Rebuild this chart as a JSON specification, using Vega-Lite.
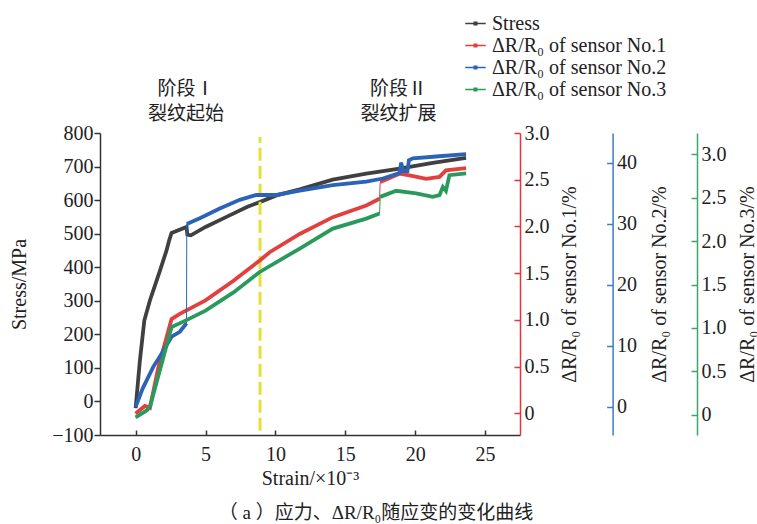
{
  "$schema": "https://vega.github.io/schema/vega-lite/v6.json",
  "width": 420,
  "height": 302,
  "autosize": {"type": "none"},
  "padding": {"left": 100, "top": 133, "right": 237, "bottom": 89},
  "config": {
    "view": {"stroke": null},
    "axis": {
      "grid": false,
      "labelFont": "Times New Roman, Liberation Serif, serif",
      "titleFont": "Times New Roman, Liberation Serif, serif",
      "labelFontSize": 20,
      "titleFontSize": 20,
      "titleFontWeight": "normal",
      "labelColor": "#222222",
      "titleColor": "#222222",
      "domainColor": "#333333",
      "tickColor": "#333333",
      "domainWidth": 1.5,
      "tickWidth": 1.5,
      "labelOverlap": false,
      "tickCount": 20
    },
    "legend": {
      "labelFont": "Times New Roman, Liberation Serif, serif",
      "labelFontSize": 20,
      "labelColor": "#222222",
      "labelLimit": 400
    },
    "title": {"font": "Times New Roman, Liberation Serif, Noto Sans CJK SC, serif", "fontSize": 19, "fontWeight": "normal", "color": "#222222"}
  },
  "title": {"text": "（ a ）应力、ΔR/R₀随应变的变化曲线", "orient": "bottom", "anchor": "middle", "dx": 66, "offset": 16},
  "datasets": {
    "stress": [
      {"strain": 0, "value": -20, "series": "Stress", "seg": 0},
      {"strain": 0.3, "value": 120, "series": "Stress", "seg": 0},
      {"strain": 0.62, "value": 241, "series": "Stress", "seg": 0},
      {"strain": 1.02, "value": 301, "series": "Stress", "seg": 0},
      {"strain": 1.74, "value": 390, "series": "Stress", "seg": 0},
      {"strain": 2.21, "value": 450, "series": "Stress", "seg": 0},
      {"strain": 2.4, "value": 480, "series": "Stress", "seg": 0},
      {"strain": 2.57, "value": 502, "series": "Stress", "seg": 0},
      {"strain": 3.64, "value": 520, "series": "Stress", "seg": 0},
      {"strain": 3.7, "value": 497, "series": "Stress", "seg": 0},
      {"strain": 3.95, "value": 495, "series": "Stress", "seg": 0},
      {"strain": 5, "value": 520, "series": "Stress", "seg": 0},
      {"strain": 6.5, "value": 550, "series": "Stress", "seg": 0},
      {"strain": 8, "value": 580, "series": "Stress", "seg": 0},
      {"strain": 8.88, "value": 594, "series": "Stress", "seg": 0},
      {"strain": 10.07, "value": 614, "series": "Stress", "seg": 0},
      {"strain": 11.74, "value": 632, "series": "Stress", "seg": 0},
      {"strain": 14.1, "value": 661, "series": "Stress", "seg": 0},
      {"strain": 16.5, "value": 679, "series": "Stress", "seg": 0},
      {"strain": 18.88, "value": 694, "series": "Stress", "seg": 0},
      {"strain": 21.26, "value": 711, "series": "Stress", "seg": 0},
      {"strain": 23.64, "value": 726, "series": "Stress", "seg": 0}
    ],
    "s1": [
      {"strain": 0, "value": 0.0, "series": "ΔR/R₀ of sensor No.1", "seg": 0},
      {"strain": 0.66, "value": 0.08, "series": "ΔR/R₀ of sensor No.1", "seg": 0},
      {"strain": 1.02, "value": 0.06, "series": "ΔR/R₀ of sensor No.1", "seg": 0},
      {"strain": 1.62, "value": 0.49, "series": "ΔR/R₀ of sensor No.1", "seg": 0},
      {"strain": 2.57, "value": 1.01, "series": "ΔR/R₀ of sensor No.1", "seg": 0},
      {"strain": 3.16, "value": 1.065, "series": "ΔR/R₀ of sensor No.1", "seg": 0},
      {"strain": 5, "value": 1.21, "series": "ΔR/R₀ of sensor No.1", "seg": 0},
      {"strain": 7, "value": 1.42, "series": "ΔR/R₀ of sensor No.1", "seg": 0},
      {"strain": 8.88, "value": 1.636, "series": "ΔR/R₀ of sensor No.1", "seg": 0},
      {"strain": 9.59, "value": 1.725, "series": "ΔR/R₀ of sensor No.1", "seg": 0},
      {"strain": 11.74, "value": 1.92, "series": "ΔR/R₀ of sensor No.1", "seg": 0},
      {"strain": 14.11, "value": 2.1, "series": "ΔR/R₀ of sensor No.1", "seg": 0},
      {"strain": 16.5, "value": 2.225, "series": "ΔR/R₀ of sensor No.1", "seg": 0},
      {"strain": 17.45, "value": 2.297, "series": "ΔR/R₀ of sensor No.1", "seg": 0},
      {"strain": 17.5, "value": 2.475, "series": "ΔR/R₀ of sensor No.1", "seg": 1},
      {"strain": 18.88, "value": 2.565, "series": "ΔR/R₀ of sensor No.1", "seg": 1},
      {"strain": 19.6, "value": 2.547, "series": "ΔR/R₀ of sensor No.1", "seg": 1},
      {"strain": 20.79, "value": 2.51, "series": "ΔR/R₀ of sensor No.1", "seg": 1},
      {"strain": 21.74, "value": 2.53, "series": "ΔR/R₀ of sensor No.1", "seg": 1},
      {"strain": 22.2, "value": 2.6, "series": "ΔR/R₀ of sensor No.1", "seg": 1},
      {"strain": 23.64, "value": 2.625, "series": "ΔR/R₀ of sensor No.1", "seg": 1}
    ],
    "s2": [
      {"strain": 0, "value": 0, "series": "ΔR/R₀ of sensor No.2", "seg": 0},
      {"strain": 0.5, "value": 3, "series": "ΔR/R₀ of sensor No.2", "seg": 0},
      {"strain": 1.26, "value": 6.56, "series": "ΔR/R₀ of sensor No.2", "seg": 0},
      {"strain": 1.8, "value": 8.5, "series": "ΔR/R₀ of sensor No.2", "seg": 0},
      {"strain": 2.57, "value": 11.5, "series": "ΔR/R₀ of sensor No.2", "seg": 0},
      {"strain": 3.16, "value": 12.3, "series": "ΔR/R₀ of sensor No.2", "seg": 0},
      {"strain": 3.64, "value": 13.7, "series": "ΔR/R₀ of sensor No.2", "seg": 0},
      {"strain": 3.66, "value": 29.95, "series": "ΔR/R₀ of sensor No.2", "seg": 1},
      {"strain": 4.59, "value": 30.9, "series": "ΔR/R₀ of sensor No.2", "seg": 1},
      {"strain": 6.02, "value": 32.5, "series": "ΔR/R₀ of sensor No.2", "seg": 1},
      {"strain": 7.45, "value": 33.9, "series": "ΔR/R₀ of sensor No.2", "seg": 1},
      {"strain": 8.64, "value": 34.7, "series": "ΔR/R₀ of sensor No.2", "seg": 1},
      {"strain": 10.07, "value": 34.7, "series": "ΔR/R₀ of sensor No.2", "seg": 1},
      {"strain": 11.74, "value": 35.4, "series": "ΔR/R₀ of sensor No.2", "seg": 1},
      {"strain": 14.11, "value": 36.3, "series": "ΔR/R₀ of sensor No.2", "seg": 1},
      {"strain": 16.5, "value": 36.9, "series": "ΔR/R₀ of sensor No.2", "seg": 1},
      {"strain": 17.69, "value": 37.4, "series": "ΔR/R₀ of sensor No.2", "seg": 1},
      {"strain": 18.88, "value": 38.3, "series": "ΔR/R₀ of sensor No.2", "seg": 1},
      {"strain": 19.0, "value": 40.0, "series": "ΔR/R₀ of sensor No.2", "seg": 1},
      {"strain": 19.15, "value": 38.6, "series": "ΔR/R₀ of sensor No.2", "seg": 1},
      {"strain": 19.45, "value": 38.6, "series": "ΔR/R₀ of sensor No.2", "seg": 1},
      {"strain": 19.55, "value": 40.4, "series": "ΔR/R₀ of sensor No.2", "seg": 1},
      {"strain": 19.83, "value": 40.7, "series": "ΔR/R₀ of sensor No.2", "seg": 1},
      {"strain": 21.5, "value": 41.0, "series": "ΔR/R₀ of sensor No.2", "seg": 1},
      {"strain": 23.64, "value": 41.4, "series": "ΔR/R₀ of sensor No.2", "seg": 1}
    ],
    "s3": [
      {"strain": 0, "value": -0.03, "series": "ΔR/R₀ of sensor No.3", "seg": 0},
      {"strain": 0.79, "value": 0.05, "series": "ΔR/R₀ of sensor No.3", "seg": 0},
      {"strain": 1.02, "value": 0.09, "series": "ΔR/R₀ of sensor No.3", "seg": 0},
      {"strain": 2.57, "value": 1.01, "series": "ΔR/R₀ of sensor No.3", "seg": 0},
      {"strain": 3.64, "value": 1.09, "series": "ΔR/R₀ of sensor No.3", "seg": 0},
      {"strain": 5, "value": 1.2, "series": "ΔR/R₀ of sensor No.3", "seg": 0},
      {"strain": 7, "value": 1.41, "series": "ΔR/R₀ of sensor No.3", "seg": 0},
      {"strain": 8.88, "value": 1.645, "series": "ΔR/R₀ of sensor No.3", "seg": 0},
      {"strain": 11.74, "value": 1.915, "series": "ΔR/R₀ of sensor No.3", "seg": 0},
      {"strain": 14.11, "value": 2.145, "series": "ΔR/R₀ of sensor No.3", "seg": 0},
      {"strain": 16.5, "value": 2.26, "series": "ΔR/R₀ of sensor No.3", "seg": 0},
      {"strain": 17.45, "value": 2.318, "series": "ΔR/R₀ of sensor No.3", "seg": 0},
      {"strain": 17.5, "value": 2.51, "series": "ΔR/R₀ of sensor No.3", "seg": 1},
      {"strain": 18.64, "value": 2.58, "series": "ΔR/R₀ of sensor No.3", "seg": 1},
      {"strain": 20.07, "value": 2.55, "series": "ΔR/R₀ of sensor No.3", "seg": 1},
      {"strain": 21.26, "value": 2.51, "series": "ΔR/R₀ of sensor No.3", "seg": 1},
      {"strain": 21.74, "value": 2.53, "series": "ΔR/R₀ of sensor No.3", "seg": 1},
      {"strain": 21.98, "value": 2.625, "series": "ΔR/R₀ of sensor No.3", "seg": 1},
      {"strain": 22.2, "value": 2.58, "series": "ΔR/R₀ of sensor No.3", "seg": 1},
      {"strain": 22.45, "value": 2.76, "series": "ΔR/R₀ of sensor No.3", "seg": 1},
      {"strain": 23.64, "value": 2.78, "series": "ΔR/R₀ of sensor No.3", "seg": 1}
    ],
    "ann": [
      {"strain": 3.6, "value": 930, "label": "阶段Ⅰ"},
      {"strain": 3.6, "value": 857, "label": "裂纹起始"},
      {"strain": 18.8, "value": 930, "label": "阶段Ⅱ"},
      {"strain": 18.8, "value": 857, "label": "裂纹扩展"}
    ],
    "vline": [
      {"strain": 8.9, "value": -87, "value2": 788}
    ]
  },
  "layer": [
    {
      "layer": [
        {
          "data": {"name": "stress"},
          "mark": {"type": "line", "strokeWidth": 1},
          "encoding": {
            "x": {"field": "strain", "type": "quantitative", "scale": {"domain": [-2.55, 27.5], "zero": false, "nice": false},
                  "axis": {"values": [0, 5, 10, 15, 20, 25], "tickCount": 20, "tickSize": -5, "labelPadding": 14, "labelOverlap": false, "title": "Strain/×10⁻³", "titlePadding": 4}},
            "y": {"field": "value", "type": "quantitative", "scale": {"domain": [-100, 800], "zero": false, "nice": false},
                  "axis": {"orient": "left", "values": [-100, 0, 100, 200, 300, 400, 500, 600, 700, 800], "tickCount": 20, "labelOverlap": false, "tickSize": 6, "labelPadding": 1, "title": "Stress/MPa", "titlePadding": 22}},
            "color": {"field": "series", "type": "nominal",
                      "scale": {"domain": ["Stress", "ΔR/R₀ of sensor No.1", "ΔR/R₀ of sensor No.2", "ΔR/R₀ of sensor No.3"], "range": ["#404040", "#e2403f", "#2b63b9", "#2a9a5c"]},
                      "legend": {"orient": "none", "legendX": 364, "legendY": -121, "title": null, "symbolType": "M-1,0H1M-0.12,-0.12H0.12V0.12H-0.12Z", "symbolSize": 420, "symbolStrokeWidth": 1.6, "rowPadding": 0, "labelOffset": 5}}
          }
        },
        {
          "data": {"name": "stress"},
          "mark": {"type": "line", "strokeWidth": 3.8},
          "encoding": {
            "x": {"field": "strain", "type": "quantitative"},
            "y": {"field": "value", "type": "quantitative"},
            "color": {"field": "series", "type": "nominal"},
            "detail": {"field": "seg", "type": "nominal"}
          }
        },
        {
          "data": {"name": "vline"},
          "mark": {"type": "rule", "color": "#e6e03c", "strokeWidth": 3, "strokeDash": [13, 5]},
          "encoding": {
            "x": {"field": "strain", "type": "quantitative"},
            "y": {"field": "value", "type": "quantitative"},
            "y2": {"field": "value2"}
          }
        },
        {
          "data": {"name": "ann"},
          "mark": {"type": "text", "font": "Noto Sans CJK SC", "fontSize": 19, "color": "#222222", "baseline": "middle", "align": "center"},
          "encoding": {
            "x": {"field": "strain", "type": "quantitative"},
            "y": {"field": "value", "type": "quantitative"},
            "text": {"field": "label"}
          }
        }
      ]
    },
    {
      "layer": [
        {
          "data": {"name": "s1"},
          "mark": {"type": "line", "strokeWidth": 1},
          "encoding": {
            "x": {"field": "strain", "type": "quantitative"},
            "y": {"field": "value", "type": "quantitative", "scale": {"domain": [-0.23, 3.0], "zero": false, "nice": false},
                  "axis": {"orient": "right", "offset": 0, "values": [0, 0.5, 1, 1.5, 2, 2.5, 3], "tickCount": 20, "labelOverlap": false, "labelExpr": "datum.value == 0 ? '0' : format(datum.value, '.1f')", "tickSize": -6, "labelPadding": 10, "domainColor": "#e8333b", "tickColor": "#e8333b", "title": "ΔR/R₀ of sensor No.1/%", "titleAngle": 270, "titleX": 49, "titleY": 151, "titleAlign": "center", "titleBaseline": "middle"}},
            "color": {"field": "series", "type": "nominal"}
          }
        },
        {
          "data": {"name": "s1"},
          "mark": {"type": "line", "strokeWidth": 3.8},
          "encoding": {
            "x": {"field": "strain", "type": "quantitative"},
            "y": {"field": "value", "type": "quantitative"},
            "color": {"field": "series", "type": "nominal"},
            "detail": {"field": "seg", "type": "nominal"}
          }
        }
      ]
    },
    {
      "layer": [
        {
          "data": {"name": "s2"},
          "mark": {"type": "line", "strokeWidth": 1},
          "encoding": {
            "x": {"field": "strain", "type": "quantitative"},
            "y": {"field": "value", "type": "quantitative", "scale": {"domain": [-4.6, 44.85], "zero": false, "nice": false},
                  "axis": {"orient": "right", "offset": 92.6, "values": [0, 10, 20, 30, 40], "tickCount": 20, "labelOverlap": false, "tickSize": -6, "labelPadding": 10, "domainColor": "#3b7cc9", "tickColor": "#3b7cc9", "title": "ΔR/R₀ of sensor No.2/%", "titleAngle": 270, "titleX": 47, "titleY": 151, "titleAlign": "center", "titleBaseline": "middle"}},
            "color": {"field": "series", "type": "nominal"}
          }
        },
        {
          "data": {"name": "s2"},
          "mark": {"type": "line", "strokeWidth": 3.8},
          "encoding": {
            "x": {"field": "strain", "type": "quantitative"},
            "y": {"field": "value", "type": "quantitative"},
            "color": {"field": "series", "type": "nominal"},
            "detail": {"field": "seg", "type": "nominal"}
          }
        }
      ]
    },
    {
      "layer": [
        {
          "data": {"name": "s3"},
          "mark": {"type": "line", "strokeWidth": 1},
          "encoding": {
            "x": {"field": "strain", "type": "quantitative"},
            "y": {"field": "value", "type": "quantitative", "scale": {"domain": [-0.233, 3.246], "zero": false, "nice": false},
                  "axis": {"orient": "right", "offset": 177, "values": [0, 0.5, 1, 1.5, 2, 2.5, 3], "tickCount": 20, "labelOverlap": false, "labelExpr": "datum.value == 0 ? '0' : format(datum.value, '.1f')", "tickSize": -6, "labelPadding": 10, "domainColor": "#3aa86a", "tickColor": "#3aa86a", "title": "ΔR/R₀ of sensor No.3/%", "titleAngle": 270, "titleX": 50, "titleY": 151, "titleAlign": "center", "titleBaseline": "middle"}},
            "color": {"field": "series", "type": "nominal"}
          }
        },
        {
          "data": {"name": "s3"},
          "mark": {"type": "line", "strokeWidth": 3.8},
          "encoding": {
            "x": {"field": "strain", "type": "quantitative"},
            "y": {"field": "value", "type": "quantitative"},
            "color": {"field": "series", "type": "nominal"},
            "detail": {"field": "seg", "type": "nominal"}
          }
        }
      ]
    }
  ],
  "resolve": {"scale": {"y": "independent"}, "axis": {"y": "independent"}}
}
